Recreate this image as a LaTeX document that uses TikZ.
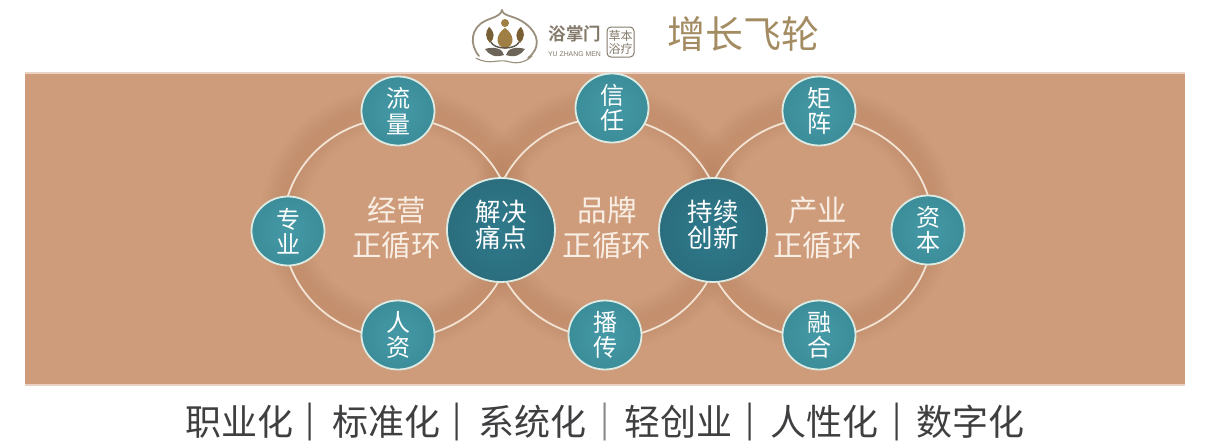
\documentclass[tikz,border=0pt]{standalone}
\usepackage{fontspec}
\setmainfont[BoldFont={Noto Sans CJK SC Bold}]{Noto Sans CJK SC}
\newfontfamily\latinf{Liberation Sans}
\usetikzlibrary{shapes.geometric}
\definecolor{bandc}{HTML}{CE9C7B}
\definecolor{bandshade}{HTML}{A8714E}
\definecolor{ringc}{HTML}{F3E3D3}
\definecolor{tealc}{HTML}{3F96A3}
\definecolor{tealedge}{HTML}{DCEBE4}
\definecolor{deepc}{HTML}{2F7A8C}
\definecolor{goldc}{HTML}{A48C62}
\definecolor{logoc}{HTML}{9B8F7E}
\definecolor{brownc}{HTML}{A07F45}
\definecolor{inkc}{HTML}{3F3F41}
\newcommand{\fs}[1]{\fontsize{#1}{#1}\selectfont}
\tikzset{
  smallnode/.style={ellipse,draw=tealedge,line width=1.8pt,inner color=tealc!97!white,outer color=tealc!94!black,minimum width=73pt,minimum height=69pt,inner sep=0pt,align=center,text=white,font=\fontsize{24}{25.5}\selectfont},
  bignode/.style={ellipse,draw=tealedge,line width=1.8pt,inner color=deepc,outer color=deepc!90!black,minimum width=108pt,minimum height=104pt,inner sep=0pt},
  bigtext/.style={inner sep=0pt,align=center,text=white,font=\fontsize{25.5}{26}\selectfont},
  ringlabel/.style={inner sep=0pt,align=center,text=ringc!60!white,font=\fontsize{29.5}{35}\selectfont},
  ringline/.style={draw=ringc,line width=1.8pt},
  bottomtext/.style={inner sep=0pt,text=inkc,font=\fontsize{36}{36}\selectfont},
  sep/.style={inner sep=0pt,text=inkc,font=\fontsize{34}{34}\selectfont},
  logotext/.style={inner sep=0pt,text=logoc!85!black},
  logoline/.style={draw=logoc,line width=1.8pt,line cap=round}
}
\begin{document}
\begin{tikzpicture}[x=1pt,y=-1pt]
\useasboundingbox (0,0) rectangle (1216,442);
\fill[white] (0,0) rectangle (1216,442);
% band with soft edge
\fill[bandc!45!white] (25,72) rectangle (1185,386);
\fill[bandc] (25,74) rectangle (1185,384);
% soft shadows of the rings
\begin{scope}
\clip (25,74) rectangle (1185,384);
\foreach \cx in {398,607,818}{
  \foreach \w in {44,38,32,26,20,14,8}{
    \draw[bandshade,opacity=0.03,line width=\w pt] (\cx,218) ellipse [x radius=115,y radius=110];
  }
}
\end{scope}
% rings
\coordinate (ringa) at (398,228);
\coordinate (ringb) at (607,228);
\coordinate (ringc) at (818,228);
\draw[ringline] (ringa) ellipse [x radius=115,y radius=110];
\draw[ringline] (ringb) ellipse [x radius=115,y radius=110];
\draw[ringline] (ringc) ellipse [x radius=115,y radius=110];
% small nodes
\node[smallnode] (liu) at (398,111) {流\\量};
\node[smallnode] (zhuan) at (288,231) {专\\业};
\node[smallnode] (ren) at (398,335) {人\\资};
\node[smallnode] (xin) at (612,108) {信\\任};
\node[smallnode] (bo) at (605,335) {播\\传};
\node[smallnode] (ju) at (819,111) {矩\\阵};
\node[smallnode] (zi) at (928,230) {资\\本};
\node[smallnode] (rong) at (819,335) {融\\合};
% big nodes
\node[bignode] (jie) at (501,230) {};
\node[bigtext] (jietext) at (501,225) {解决\\痛点};
\node[bignode] (chi) at (713,230) {};
\node[bigtext] (chitext) at (713,225) {持续\\创新};
% ring labels
\node[ringlabel] (la) at (396.5,227.5) {经营\\正循环};
\node[ringlabel] (lb) at (607,227.5) {品牌\\正循环};
\node[ringlabel] (lc) at (817.5,227.5) {产业\\正循环};
% title
\node[inner sep=0pt,text=goldc,font=\fs{38}] (title) at (743.5,34) {增长飞轮};
% logo
\draw[logoline] (502,10) .. controls (503,17) and (515,15) .. (526,24) .. controls (539,34) and (541,48) .. (528,58);
\draw[logoline] (502,10) .. controls (500,17) and (493,17) .. (485,21) .. controls (471,28) and (469,44) .. (479,56);
\draw[logoline,line width=1.1pt] (476,58) .. controls (490,66) and (498,58) .. (510,62) .. controls (518,64) and (526,62) .. (532,56);
\fill[brownc] (505,23) circle (4);
\fill[brownc] (505,28) .. controls (514,34) and (516,45) .. (505,49) .. controls (494,45) and (496,34) .. (505,28);
\fill[brownc!75!black] (489,27) .. controls (495,32) and (495,38) .. (490,43) .. controls (485,38) and (485,32) .. (489,27);
\fill[brownc!75!black] (521,27) .. controls (525,32) and (525,38) .. (520,43) .. controls (515,38) and (515,32) .. (521,27);
\draw[logoc!60!black,line width=1.4pt,line cap=round] (491,42) .. controls (494,50) and (516,50) .. (519,42);
\fill[logoc!70!black] (485,49) .. controls (495,46) and (503,49) .. (504,55) .. controls (495,58) and (489,55) .. (485,49);
\fill[logoc!70!black] (525,49) .. controls (515,46) and (507,49) .. (506,55) .. controls (515,58) and (521,55) .. (525,49);
\node[logotext,font=\bfseries\fs{17.5}] (brand) at (575,34) {浴掌门};
\node[logotext,font=\latinf\fs{6.9}] (brandlatin) at (574.5,54) {YU ZHANG MEN};
\node[draw=logoc!85!black,line width=1pt,rounded corners=4pt,minimum width=27pt,minimum height=30pt,inner sep=0pt,align=center,logotext,font=\fontsize{12}{13}\selectfont] (seal) at (620.5,42) {草本\\浴疗};
% bottom line
\node[bottomtext] (b1) at (239,422) {职业化};
\node[sep] (s1) at (310,422) {|};
\node[bottomtext] (b2) at (386,422) {标准化};
\node[sep] (s2) at (457,422) {|};
\node[bottomtext] (b3) at (532,422) {系统化};
\node[sep,text=inkc!60!white] (s3) at (605,422) {|};
\node[bottomtext] (b4) at (678,422) {轻创业};
\node[sep] (s4) at (750,422) {|};
\node[bottomtext] (b5) at (824,422) {人性化};
\node[sep] (s5) at (897,422) {|};
\node[bottomtext] (b6) at (970.5,422) {数字化};
\end{tikzpicture}
\end{document}
